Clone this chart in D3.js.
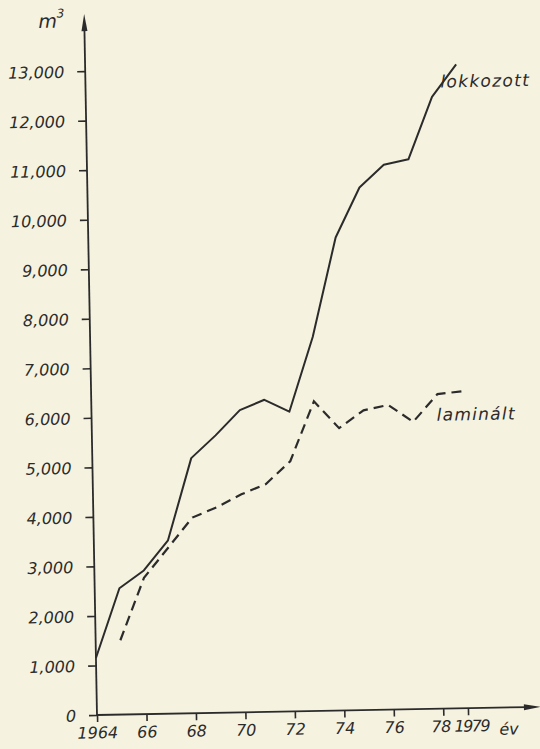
<!DOCTYPE html>
<html>
<head>
<meta charset="utf-8">
<script src="https://cdn.jsdelivr.net/npm/d3@7"></script>
<style>
  html, body { margin: 0; padding: 0; background: #f5f2df; }
  svg { display: block; }
  text { font-family: "DejaVu Sans", sans-serif; font-style: italic; fill: #2b2b2b; }
</style>
</head>
<body>
<div id="chart"></div>
<script>
// data
const years = [1964, 1965, 1966, 1967, 1968, 1969, 1970, 1971, 1972, 1973, 1974, 1975, 1976, 1977, 1978, 1979];
const lokkozott = [1150, 2550, 2900, 3500, 5150, 5600, 6100, 6300, 6050, 7550, 9550, 10550, 11000, 11100, 12350, 13000];
const laminalt = [null, 1500, 2750, 3350, 3950, 4150, 4400, 4600, 5050, 6250, 5700, 6050, 6150, 5800, 6350, 6400];
const yTicks = [0, 1000, 2000, 3000, 4000, 5000, 6000, 7000, 8000, 9000, 10000, 11000, 12000, 13000];
const xTicks = [1964, 1966, 1968, 1970, 1972, 1974, 1976, 1978, 1979];
const xTickLabels = ['1964', '66', '68', '70', '72', '74', '76', '78', '1979'];

const W = 540, H = 749;
const ink = '#2b2b2b';

const svg = d3.select('#chart').append('svg')
  .attr('width', W)
  .attr('height', H);

// the scan is tilted a little, so the whole plot sits in a rotated group
const g = svg.append('g')
  .attr('transform', 'translate(97,715) rotate(-1.05)');

const x = d3.scaleLinear().domain([1964, 1979]).range([0, 371]);
const y = d3.scaleLinear().domain([0, 13000]).range([0, -644]);

// Y axis
const yAxis = g.append('g')
  .call(d3.axisLeft(y).tickValues(yTicks).tickSize(8).tickPadding(13).tickFormat(d3.format(',')));
yAxis.select('.domain').remove();
yAxis.selectAll('line').attr('stroke', ink).attr('stroke-width', 1.6);
yAxis.selectAll('text')
  .style('font-size', '16px')
  .attr('fill', ink)
  .attr('dy', '0.36em');

// X axis
const xAxis = g.append('g')
  .call(d3.axisBottom(x).tickValues(xTicks).tickSize(7).tickPadding(5)
    .tickFormat((d, i) => xTickLabels[i]));
xAxis.select('.domain').remove();
xAxis.selectAll('line').attr('stroke', ink).attr('stroke-width', 1.6);
xAxis.selectAll('text')
  .style('font-size', '16px')
  .attr('fill', ink);
// 78 and 1979 sit close together, squeeze them a bit
xAxis.selectAll('.tick')
  .filter(d => d === 1978)
  .select('text')
  .attr('dx', -3)
  .style('letter-spacing', '-0.5px');
xAxis.selectAll('.tick')
  .filter(d => d === 1979)
  .select('text')
  .attr('dx', 3)
  .style('letter-spacing', '-1.5px');

// axis lines with arrow heads
g.append('line')
  .attr('x1', 0).attr('y1', 0).attr('x2', 0).attr('y2', -690)
  .attr('stroke', ink).attr('stroke-width', 1.8);
g.append('path')
  .attr('d', 'M0,-701 L-3,-684 L3,-684 Z')
  .attr('fill', ink);
g.append('line')
  .attr('x1', 0).attr('y1', 0).attr('x2', 432).attr('y2', 0)
  .attr('stroke', ink).attr('stroke-width', 1.8);
g.append('path')
  .attr('d', 'M444,0 L427,-3 L427,3 Z')
  .attr('fill', ink);

// axis titles
g.append('text')
  .attr('x', -46)
  .attr('y', -688)
  .style('font-size', '19px')
  .text('m')
  .append('tspan')
  .attr('dy', -10)
  .style('font-size', '12px')
  .text('3');

g.append('text')
  .attr('x', 402)
  .attr('y', 27)
  .style('font-size', '16px')
  .text('év');

// series lines
const line = d3.line()
  .defined(d => d[1] != null)
  .x(d => x(d[0]))
  .y(d => y(d[1]));

g.append('path')
  .datum(years.map((yr, i) => [yr, lokkozott[i]]))
  .attr('fill', 'none')
  .attr('stroke', ink)
  .attr('stroke-width', 2)
  .attr('stroke-linejoin', 'round')
  .attr('d', line);

g.append('path')
  .datum(years.map((yr, i) => [yr, laminalt[i]]))
  .attr('fill', 'none')
  .attr('stroke', ink)
  .attr('stroke-width', 2.2)
  .attr('stroke-dasharray', '10,6')
  .attr('d', line);

// series labels
g.append('text')
  .attr('x', 355)
  .attr('y', -621)
  .style('font-size', '17px')
  .style('letter-spacing', '1.3px')
  .text('lokkozott');

g.append('text')
  .attr('x', 345)
  .attr('y', -288)
  .style('font-size', '17px')
  .style('letter-spacing', '1.3px')
  .text('laminált');
</script>
</body>
</html>
